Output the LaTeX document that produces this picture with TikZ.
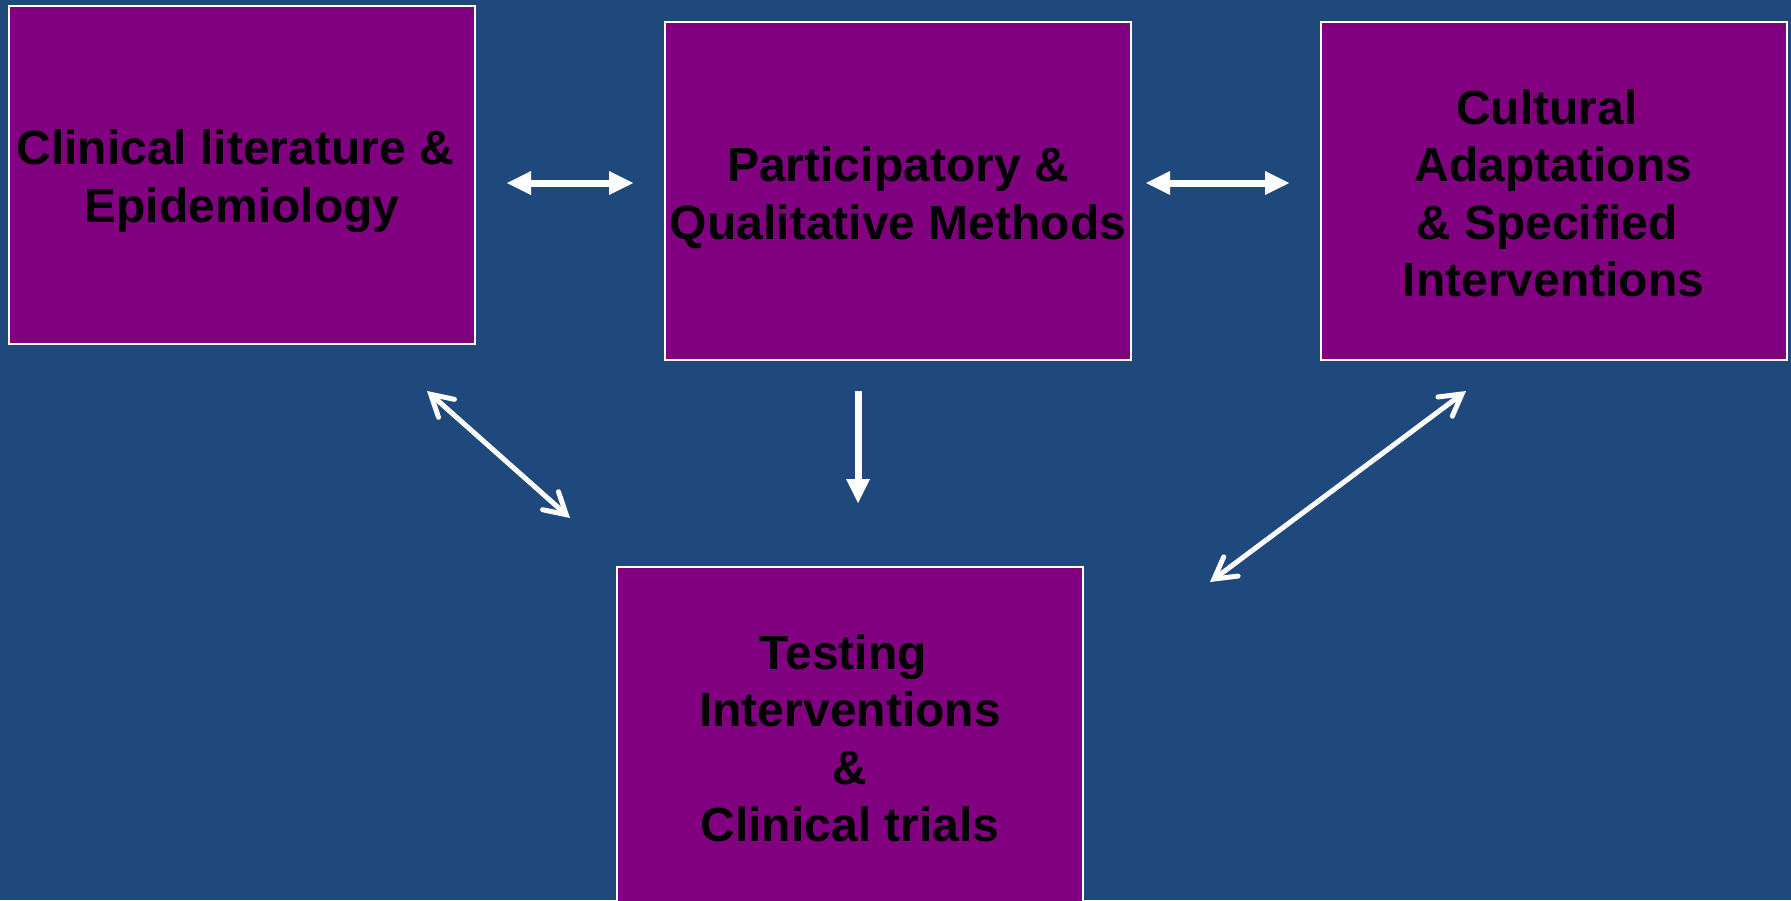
\documentclass[tikz,border=0pt]{standalone}
\usepackage{fontspec}
\setmainfont{Liberation Sans}
\usetikzlibrary{arrows.meta}
\definecolor{bgblue}{RGB}{31,73,125}
\definecolor{boxpurple}{RGB}{128,0,128}
\tikzset{
  card/.style={draw=white, line width=1pt, fill=boxpurple, minimum width=233pt,
    minimum height=169pt, inner sep=0pt},
  cardtext/.style={align=center, text=black, inner sep=0pt,
    font=\fontsize{24}{28.8}\selectfont\bfseries},
  blockhead/.tip={Triangle[length=12pt,width=12pt,line width=0pt]},
  barbhead/.tip={Straight Barb[length=10.5pt,width=12pt,line cap=round,line join=miter]},
  blockarrow/.style={draw=white, line width=3.5pt},
  barbarrow/.style={draw=white, line width=2.5pt, barbhead-barbhead}
}
\begin{document}
\begin{tikzpicture}[x=0.5pt,y=-0.5pt]
  \useasboundingbox (0,0) rectangle (1791,900);
  \fill[bgblue] (0,0) rectangle (1791,900);

  \node[card, label={[cardtext, yshift=-3pt]center:{Clinical literature \&\hphantom{\ }\\Epidemiology}}] (b1) at (242,175) {};
  \node[card, label={[cardtext, yshift=-3.3pt]center:{Participatory \&\\Qualitative Methods}}] (b2) at (898,191) {};
  \node[card, label={[cardtext, yshift=-1.2pt]center:{Cultural\hphantom{\ }\\Adaptations\\\&~Specified\hphantom{\ }\\Interventions}}] (b3) at (1553.5,191) {};
  \node[card, label={[cardtext, yshift=-1.2pt]center:{Testing\hphantom{\ }\\Interventions\\\&\\Clinical trials}}] (b4) at (850,736) {};

  \coordinate (h1a) at (507,183);
  \coordinate (h1b) at (633,183);
  \coordinate (h2a) at (1146,183);
  \coordinate (h2b) at (1289,183);
  \coordinate (v1a) at (858,391);
  \coordinate (v1b) at (858,503);
  \coordinate (d1a) at (427,391);
  \coordinate (d1b) at (570,518);
  \coordinate (d2a) at (1466,391);
  \coordinate (d2b) at (1210,582);

  \draw[blockarrow, blockhead-blockhead] (h1a) -- (h1b);
  \draw[blockarrow, blockhead-blockhead] (h2a) -- (h2b);
  \draw[blockarrow, -blockhead] (v1a) -- (v1b);
  \draw[barbarrow] (d1a) -- (d1b);
  \draw[barbarrow] (d2a) -- (d2b);
\end{tikzpicture}
\end{document}
